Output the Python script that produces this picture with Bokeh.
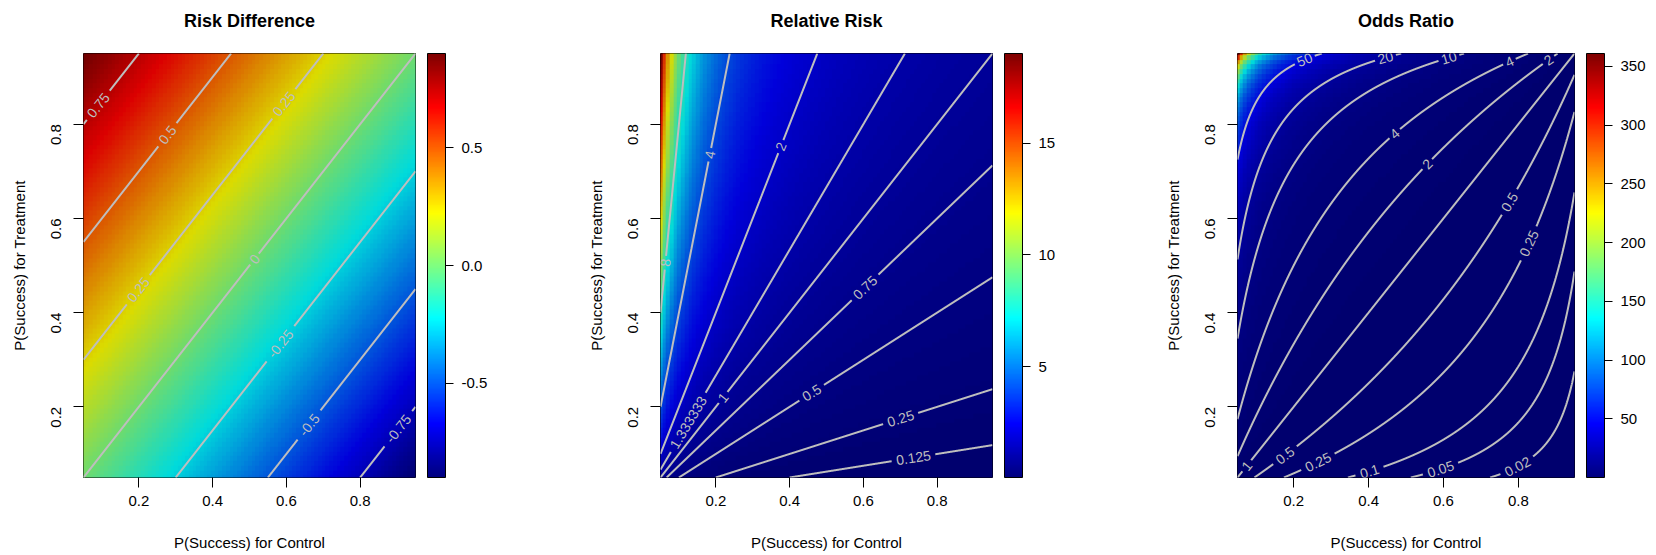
import numpy as np
from bokeh.plotting import figure
from bokeh.models import (LinearColorMapper, ColorBar, FixedTicker, PrintfTickFormatter,
                          Range1d, Title)
from bokeh.layouts import row
from bokeh.embed import file_html
from bokeh.resources import INLINE
from bokeh.core.properties import value

# ---------------- data ----------------
p_control = np.round(np.linspace(0.05, 0.95, 91), 2)     # x grid
p_treatment = np.round(np.linspace(0.05, 0.95, 91), 2)   # y grid

titles = ["Risk Difference", "Relative Risk", "Odds Ratio"]
x_label = "P(Success) for Control"
y_label = "P(Success) for Treatment"
axis_ticks = [0.2, 0.4, 0.6, 0.8]

rd_levels = [-0.75, -0.5, -0.25, 0, 0.25, 0.5, 0.75]
rd_level_labels = ["-0.75", "-0.5", "-0.25", "0", "0.25", "0.5", "0.75"]
rr_levels = [0.125, 0.25, 0.5, 0.75, 1, 4 / 3, 2, 4, 8]
rr_level_labels = ["0.125", "0.25", "0.5", "0.75", "1", "1.333333", "2", "4", "8"]
or_levels = [0.02, 0.05, 0.1, 0.25, 0.5, 1, 2, 4, 10, 20, 50]
or_level_labels = ["0.02", "0.05", "0.1", "0.25", "0.5", "1", "2", "4", "10", "20", "50"]

# approximate label anchors (control, treatment)
rd_label_pos = {"0.75": [(0.09, 0.84)], "0.5": [(0.283, 0.774)],
                "0.25": [(0.595, 0.842), (0.198, 0.449)], "0": [(0.515, 0.513)],
                "-0.25": [(0.587, 0.332)], "-0.5": [(0.661, 0.162)], "-0.75": [(0.90, 0.156)]}
rr_label_pos = {"8": [(0.063, 0.506)], "4": [(0.185, 0.735)], "2": [(0.375, 0.753)],
                "1.333333": [(0.125, 0.167)], "1": [(0.22, 0.22)], "0.75": [(0.603, 0.455)],
                "0.5": [(0.46, 0.23)], "0.25": [(0.70, 0.178)], "0.125": [(0.735, 0.095)]}
or_label_pos = {"50": [(0.229, 0.937)], "20": [(0.445, 0.941)], "10": [(0.615, 0.94)],
                "4": [(0.776, 0.933), (0.47, 0.78)], "2": [(0.88, 0.937), (0.556, 0.716)],
                "1": [(0.075, 0.075)], "0.5": [(0.776, 0.635), (0.175, 0.099)],
                "0.25": [(0.826, 0.548), (0.262, 0.088)], "0.1": [(0.40, 0.07)],
                "0.05": [(0.59, 0.074)], "0.02": [(0.79, 0.085)]}

rd_cbar_ticks = [-0.5, 0.0, 0.5]
rr_cbar_ticks = [5, 10, 15]
or_cbar_ticks = [50, 100, 150, 200, 250, 300, 350]

# ---------------- surfaces ----------------
PC, PT = np.meshgrid(p_control, p_treatment)
RD = PT - PC
RR = PT / PC
OR = (PT / (1 - PT)) / (PC / (1 - PC))


def odds(p):
    return p / (1 - p)


def inv_odds(o):
    return o / (1 + o)


curve_funcs = {
    "RD": (lambda pc, c: pc + c, lambda pt, c: pt - c),
    "RR": (lambda pc, c: c * pc, lambda pt, c: pt / c),
    "OR": (lambda pc, c: inv_odds(c * odds(pc)), lambda pt, c: inv_odds(odds(pt) / c)),
}

# ---------------- style ----------------
FONT = "Liberation Sans"
FRAME_W, FRAME_H = 340, 424
LEFT, TOP, BOTTOM = 83, 53, 78
KX = FRAME_W / 0.9
KY = FRAME_H / 0.9
LINE_COL = "#BEBEBE"
LAB_FS = 14


def jet(n, scale=1.0):
    t = np.linspace(0, 1, n)
    r = np.clip(1.5 - np.abs(4 * t - 3), 0, 1)
    g = np.clip(1.5 - np.abs(4 * t - 2), 0, 1)
    b = np.clip(1.5 - np.abs(4 * t - 1), 0, 1)
    return ["#%02x%02x%02x" % (int(round(255 * scale * a)), int(round(255 * scale * bb)),
                               int(round(255 * scale * c))) for a, bb, c in zip(r, g, b)]


pal_bar = jet(256)
pal_img = jet(256, 0.86)


def make_panel(title, Z, key, levels, labels, label_pos, cticks, cfmt, width, right):
    lo, hi = float(Z.min()), float(Z.max())
    p = figure(width=width, height=TOP + FRAME_H + BOTTOM, title=None,
               x_range=Range1d(0.05, 0.95), y_range=Range1d(0.05, 0.95),
               output_backend="svg", toolbar_location=None,
               min_border_left=LEFT, min_border_right=right,
               min_border_top=TOP, min_border_bottom=BOTTOM)
    p.grid.visible = False
    p.outline_line_color = "black"
    p.outline_line_width = 1
    p.outline_line_alpha = 1

    # spacer (closest to frame) then the real title
    p.add_layout(Title(text=" ", text_font_size="14px", standoff=0), "above")
    p.add_layout(Title(text=title, align="center", text_font=FONT, text_font_size="18px",
                       text_font_style="bold", text_color="black"), "above")

    img_map = LinearColorMapper(palette=pal_img, low=lo, high=hi)
    bar_map = LinearColorMapper(palette=pal_bar, low=lo, high=hi)
    p.image(image=[Z], x=0.045, y=0.045, dw=0.91, dh=0.91, color_mapper=img_map)

    fx, fy = curve_funcs[key]
    s = np.linspace(0.05, 0.95, 3000)
    tx, ty, tt, ta = [], [], [], []
    for lev, lab in zip(levels, labels):
        pcs = np.concatenate([s, fy(s, lev)])
        pts = np.concatenate([fx(s, lev), s])
        m = (pcs >= 0.05) & (pcs <= 0.95) & (pts >= 0.05) & (pts <= 0.95)
        pcs, pts = pcs[m], pts[m]
        o = np.argsort(pcs)
        pcs, pts = pcs[o], pts[o]
        sx, sy = (pcs - 0.05) * KX, (pts - 0.05) * KY
        keep = np.ones(len(pcs), bool)
        for (ax, ay) in label_pos.get(lab, []):
            d = np.hypot(sx - (ax - 0.05) * KX, sy - (ay - 0.05) * KY)
            i = int(np.argmin(d))
            i0, i1 = max(i - 5, 0), min(i + 5, len(sx) - 1)
            ang = np.arctan2(sy[i1] - sy[i0], sx[i1] - sx[i0])
            if ang > np.pi / 2:
                ang -= np.pi
            if ang < -np.pi / 2:
                ang += np.pi
            half = len(lab) * 0.56 * LAB_FS / 2 + 3
            dd = np.hypot(sx - sx[i], sy - sy[i])
            keep &= dd > half
            tx.append(pcs[i]); ty.append(pts[i]); tt.append(lab); ta.append(ang)
        xs = np.where(keep, pcs, np.nan)
        ys = np.where(keep, pts, np.nan)
        p.line(xs, ys, line_color=LINE_COL, line_width=2)
    p.text(x=tx, y=ty, text=tt, angle=ta, text_align="center", text_baseline="middle",
           text_color=LINE_COL, text_font_size="%dpx" % LAB_FS, text_font=value(FONT))

    for ax in (p.xaxis[0], p.yaxis[0]):
        ax.ticker = FixedTicker(ticks=axis_ticks)
        ax.axis_line_color = None
        ax.major_tick_out = 10
        ax.major_tick_in = 0
        ax.minor_tick_line_color = None
        ax.major_tick_line_color = "black"
        ax.major_label_text_font = FONT
        ax.major_label_text_font_size = "15px"
        ax.major_label_text_color = "black"
        ax.axis_label_text_font = FONT
        ax.axis_label_text_font_size = "15px"
        ax.axis_label_text_font_style = "normal"
        ax.axis_label_text_color = "black"
    p.xaxis.major_label_standoff = 8
    p.yaxis.major_label_standoff = 17
    p.xaxis.axis_label = x_label
    p.yaxis.axis_label = y_label
    p.xaxis.axis_label_standoff = 25
    p.yaxis.axis_label_standoff = 16
    p.yaxis.major_label_orientation = np.pi / 2

    cb = ColorBar(color_mapper=bar_map, width=18, height=FRAME_H, padding=0, margin=0,
                  location=(12, 0),
                  ticker=FixedTicker(ticks=cticks), formatter=PrintfTickFormatter(format=cfmt),
                  major_tick_out=8, major_tick_in=0, major_tick_line_color="black",
                  bar_line_color="black", border_line_color=None, background_fill_color=None,
                  major_label_text_font=FONT, major_label_text_font_size="15px",
                  major_label_text_color="black", label_standoff=8, minor_tick_line_color=None)
    p.add_layout(cb, "right")
    return p


p1 = make_panel(titles[0], RD, "RD", rd_levels, rd_level_labels, rd_label_pos,
                rd_cbar_ticks, "%.1f", 577, 162)
p2 = make_panel(titles[1], RR, "RR", rr_levels, rr_level_labels, rr_label_pos,
                rr_cbar_ticks, "%d", 577, 162)
p3 = make_panel(titles[2], OR, "OR", or_levels, or_level_labels, or_label_pos,
                or_cbar_ticks, "%d", 494, 71)

layout = row(p1, p2, p3)
open("out.html", "w").write(file_html(layout, INLINE))
